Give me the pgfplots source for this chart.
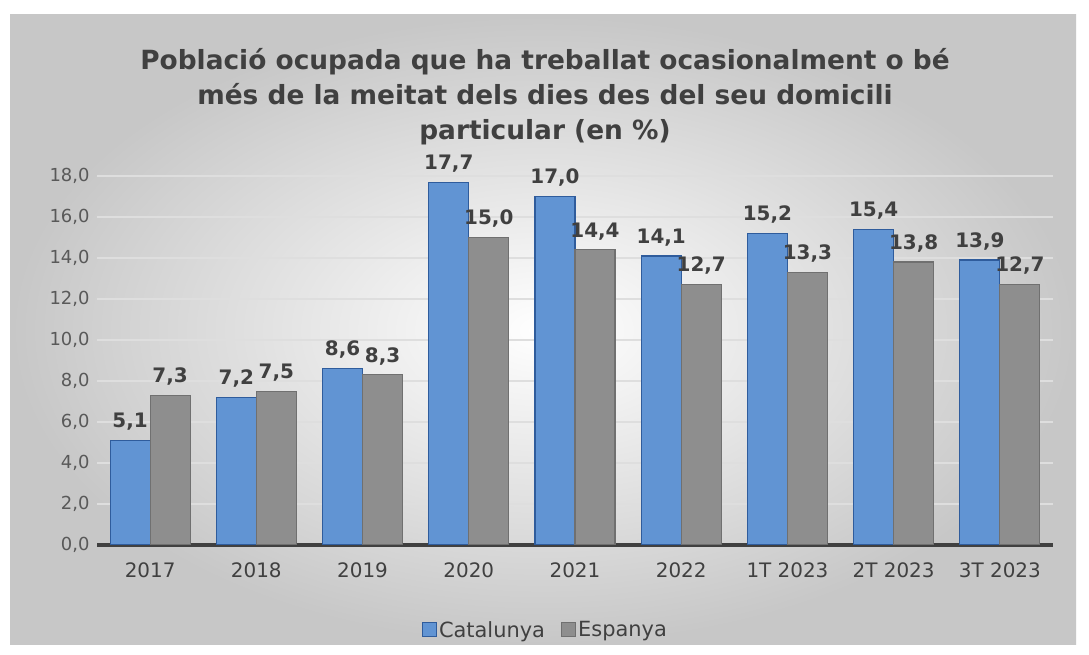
\documentclass[border=0pt]{standalone}
\usepackage{pgfplots}
\pgfplotsset{compat=1.18}
\usepackage{fontspec}
\setmainfont{DejaVu Sans}
\definecolor{catfill}{HTML}{6194D3}
\definecolor{catdraw}{HTML}{2F5C9C}
\definecolor{espfill}{HTML}{8E8E8E}
\definecolor{espdraw}{HTML}{707070}
\definecolor{txt}{HTML}{404040}
\definecolor{tick}{HTML}{595959}
\begin{document}
\begin{tikzpicture}
\fill[white] (0bp,0bp) rectangle (1089bp,655bp);
\shade[inner color=white, outer color=black!22] (10bp,10bp) rectangle (1076bp,640bp);
\node[align=center, text=txt, font=\bfseries\fontsize{26.5}{35}\selectfont] at (545bp,558bp)
{Població ocupada que ha treballat ocasionalment o bé\\més de la meitat dels dies des del seu domicili\\particular (en \%)};
\begin{axis}[
  at={(97bp,110bp)}, anchor=south west,
  scale only axis, width=956bp, height=369bp,
  xmin=-0.5, xmax=8.5, ymin=0, ymax=18,
  ybar=0pt, bar width=40bp,
  axis x line*=bottom, axis y line*=left,
  x axis line style={draw=txt, line width=3bp, -},
  y axis line style={draw=none},
  xtick={0,...,8},
  xticklabels={2017,2018,2019,2020,2021,2022,1T 2023,2T 2023,3T 2023},
  x tick label style={font=\fontsize{20}{20}\selectfont, text=txt, yshift=-14bp},
  ytick={0,2,...,18},
  y tick label style={font=\fontsize{18}{18}\selectfont, text=tick, xshift=-4bp},
  yticklabel={\pgfmathprintnumber[fixed,fixed zerofill,precision=1,use comma]{\tick}},
  /pgf/number format/assume math mode=true,
  major tick length=0pt,
  ymajorgrids, grid style={draw=black!13, line width=1.5bp},
  nodes near coords={\pgfmathprintnumber[fixed,fixed zerofill,precision=1,use comma]{\pgfplotspointmeta}},
  nodes near coords style={font=\bfseries\fontsize{20}{20}\selectfont, text=txt, yshift=6bp, /pgf/number format/assume math mode=true},
  legend style={at={(0.469,-0.23)}, anchor=center, draw=none, fill=none,
    legend columns=2, font=\fontsize{21}{21}\selectfont, text=txt,
    /tikz/every even column/.append style={column sep=14bp}},
  legend image code/.code={\draw[#1, line width=1.2bp] (0bp,-7bp) rectangle (14bp,7bp);},
]
\addplot[fill=catfill, draw=catdraw, line width=1.2bp] coordinates {
(0,5.1) (1,7.2) (2,8.6) (3,17.7) (4,17.0) (5,14.1) (6,15.2) (7,15.4) (8,13.9)};
\addplot[fill=espfill, draw=espdraw, line width=1.2bp] coordinates {
(0,7.3) (1,7.5) (2,8.3) (3,15.0) (4,14.4) (5,12.7) (6,13.3) (7,13.8) (8,12.7)};
\legend{Catalunya, Espanya}
\end{axis}
\end{tikzpicture}
\end{document}
